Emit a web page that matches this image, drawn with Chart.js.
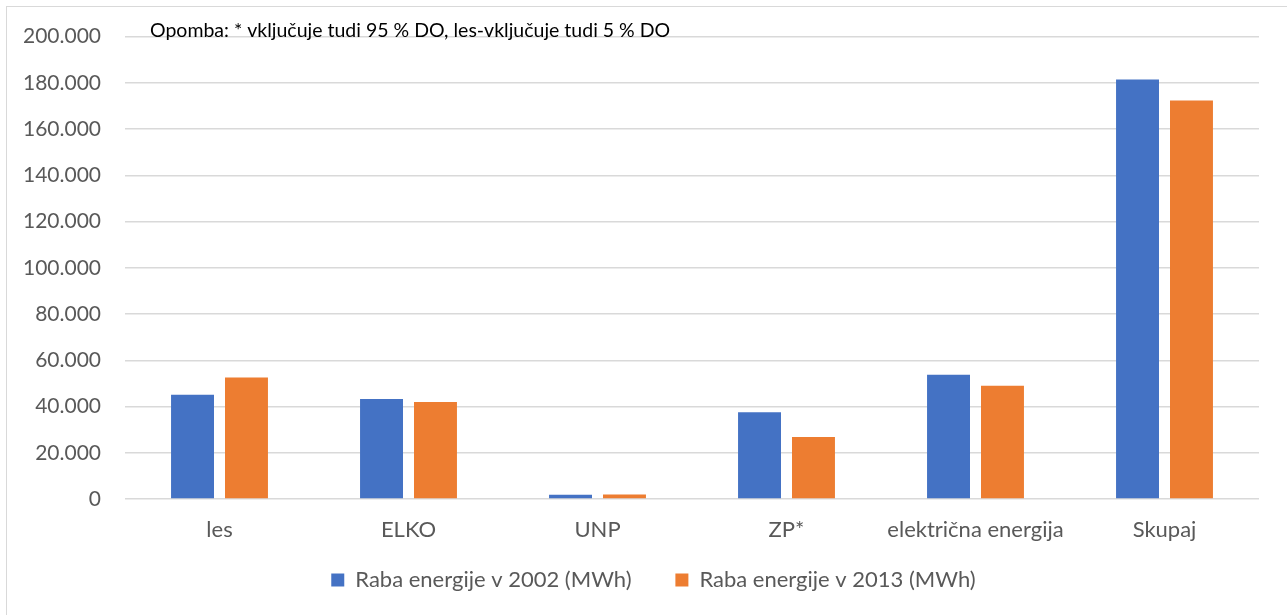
<!DOCTYPE html>
<html>
<head>
<meta charset="utf-8">
<script src="https://cdn.jsdelivr.net/npm/chart.js@4/dist/chart.umd.min.js"></script>
<style>
  html, body { margin: 0; padding: 0; background: #fff; overflow: hidden; }
  #wrap { position: relative; width: 1287px; height: 615px; }
  #frame { position: absolute; left: 6px; top: 6px; width: 1300px; height: 640px; border: 1px solid #d9d9d9; box-sizing: border-box; }
  canvas { position: absolute; left: 0; top: 0; }
</style>
</head>
<body>
<div id="wrap">
  <div id="frame"></div>
  <canvas id="chart" width="1287" height="615"></canvas>
</div>
<script>
const categories = ['les', 'ELKO', 'UNP', 'ZP*', 'električna energija', 'Skupaj'];
const raba2002 = [45100, 43200, 1800, 37500, 53700, 181400];
const raba2013 = [52600, 42000, 2000, 26800, 49000, 172400];
const seriesLabels = ['Raba energije v 2002 (MWh)', 'Raba energije v 2013 (MWh)'];
const note = 'Opomba: * vključuje tudi 95 % DO, les-vključuje tudi 5 % DO';

const font = 'Lato';
const textColor = '#595959';

// slovenian thousands separator
function fmt(v) {
    return String(v).replace(/\B(?=(\d{3})+(?!\d))/g, '.');
}

const notePlugin = {
    id: 'note',
    afterDraw(chart) {
        const ctx = chart.ctx;
        ctx.save();
        ctx.font = '19.5px ' + font;
        ctx.fillStyle = '#000';
        ctx.textBaseline = 'middle';
        ctx.textAlign = 'left';
        ctx.fillText(note, 150, 31);
        ctx.restore();
    }
};

new Chart(document.getElementById('chart'), {
    type: 'bar',
    data: {
        labels: categories,
        datasets: [{
            label: seriesLabels[0],
            data: raba2002,
            backgroundColor: '#4472C4',
            categoryPercentage: 0.571,
            barPercentage: 0.796
        }, {
            label: seriesLabels[1],
            data: raba2013,
            backgroundColor: '#ED7D31',
            categoryPercentage: 0.571,
            barPercentage: 0.796
        }]
    },
    options: {
        responsive: false,
        animation: false,
        layout: {
            padding: { left: 20, right: 0, top: 36, bottom: 14 }
        },
        plugins: {
            legend: {
                position: 'bottom',
                labels: {
                    boxWidth: 13,
                    boxHeight: 13,
                    padding: 10,
                    color: textColor,
                    font: { family: font, size: 22 },
                    // wider gap between the two entries, like the original
                    generateLabels(chart) {
                        const items = Chart.defaults.plugins.legend.labels.generateLabels(chart);
                        items[0].text = items[0].text + '      ';
                        return items;
                    }
                }
            },
            tooltip: { enabled: false }
        },
        scales: {
            x: {
                grid: { display: false },
                border: { display: false },
                ticks: {
                    color: textColor,
                    padding: 10,
                    font: { family: font, size: 22 }
                },
                afterFit(s) { s.height = 60; }
            },
            y: {
                min: 0,
                max: 200000,
                border: { display: false },
                grid: { color: '#d9d9d9', lineWidth: 1.5, drawTicks: false },
                ticks: {
                    stepSize: 20000,
                    padding: 24,
                    color: textColor,
                    font: { family: font, size: 21 },
                    callback: (v) => fmt(v)
                },
                afterFit(s) { s.width = 105; }
            },
            // empty right-hand spacer so the legend centres on the whole width
            y2: {
                position: 'right',
                grid: { display: false },
                border: { display: false },
                ticks: { display: false },
                afterFit(s) { s.width = 28; }
            }
        }
    },
    plugins: [notePlugin]
});
</script>
</body>
</html>
